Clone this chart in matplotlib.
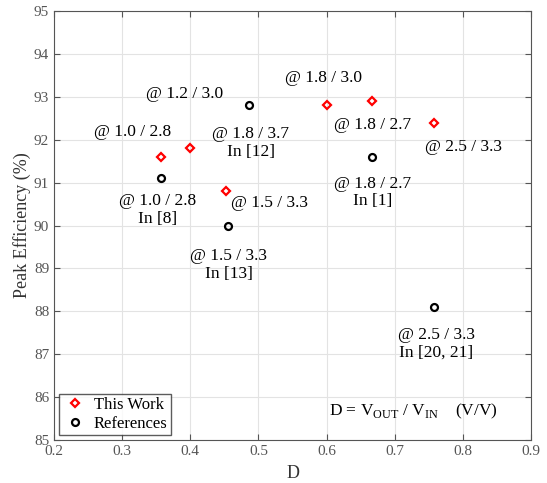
import matplotlib.pyplot as plt

# donnees
d_work = [0.357, 0.400, 0.453, 0.600, 0.667, 0.758]
eff_work = [91.6, 91.8, 90.8, 92.8, 92.9, 92.4]

d_ref = [0.357, 0.486, 0.455, 0.667, 0.758]
eff_ref = [91.1, 92.8, 90.0, 91.6, 88.1]

# etiquettes (texte, x, y)
labels = [
    ("@ 1.2 / 3.0", 0.392, 93.07),
    ("@ 1.0 / 2.8", 0.315, 92.18),
    ("@ 1.8 / 3.7\nIn [12]", 0.489, 91.93),
    ("@ 1.0 / 2.8\nIn [8]", 0.352, 90.37),
    ("@ 1.5 / 3.3", 0.516, 90.52),
    ("@ 1.5 / 3.3\nIn [13]", 0.456, 89.08),
    ("@ 1.8 / 3.0", 0.596, 93.45),
    ("@ 1.8 / 2.7", 0.668, 92.34),
    ("@ 1.8 / 2.7\nIn [1]", 0.668, 90.77),
    ("@ 2.5 / 3.3", 0.801, 91.84),
    ("@ 2.5 / 3.3\nIn [20, 21]", 0.761, 87.24),
]

plt.rcParams['font.family'] = ['Liberation Serif', 'DejaVu Serif']
plt.rcParams['mathtext.fontset'] = 'custom'
plt.rcParams['mathtext.rm'] = 'Liberation Serif'

fig = plt.figure(figsize=(5.47, 4.83), dpi=100)
ax = fig.add_axes([0.0987, 0.089, 0.8723, 0.888])

ax.plot(d_work, eff_work, 'D', ls='none', mfc='none', mec='red', ms=4.5, mew=1.6,
        label='This Work', zorder=3)
ax.plot(d_ref, eff_ref, 'o', ls='none', mfc='none', mec='black', ms=5, mew=1.6,
        label='References', zorder=3)

for txt, x, y in labels:
    ax.text(x, y, txt, ha='center', va='center', fontsize=12.5, linespacing=1.15)

ax.text(0.727, 85.66, r'D = V$_{\mathrm{OUT}}$ / V$_{\mathrm{IN}}$    (V/V)',
        ha='center', va='center', fontsize=12.5)

ax.set_xlim(0.2, 0.9)
ax.set_ylim(85, 95)
ax.set_xticks([0.2, 0.3, 0.4, 0.5, 0.6, 0.7, 0.8, 0.9])
ax.set_yticks(range(85, 96))
ax.grid(True, color='#e3e3e3', lw=0.8)
ax.set_axisbelow(True)
ax.tick_params(direction='in', top=True, right=True, labelsize=11,
               colors='#555555', length=4)
for s in ax.spines.values():
    s.set_color('#555555')
ax.set_xlabel('D', fontsize=13, color='#333333', labelpad=5)
ax.set_ylabel('Peak Efficiency (%)', fontsize=13, color='#333333', labelpad=2)

leg = ax.legend(loc='lower left', fontsize=12, frameon=True, fancybox=False,
                edgecolor='#333333', borderpad=0.2, handletextpad=0.4,
                labelspacing=0.15, handlelength=1.5, borderaxespad=0.3)
leg.get_frame().set_linewidth(1.0)

fig.savefig('out.png', dpi=100)
